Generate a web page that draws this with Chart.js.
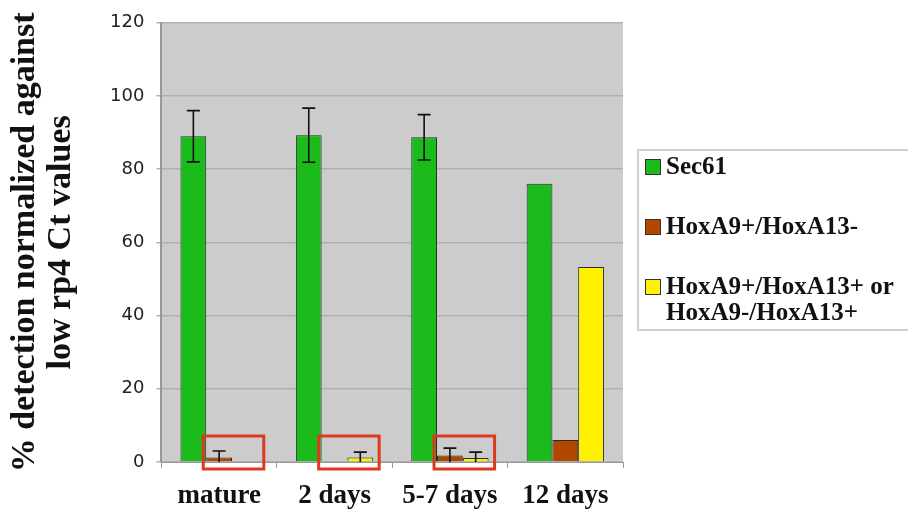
<!DOCTYPE html>
<html>
<head>
<meta charset="utf-8">
<script src="https://cdn.jsdelivr.net/npm/chart.js@4/dist/chart.umd.min.js"></script>
<style>
  html, body { margin:0; padding:0; background:#fff; }
  #wrap { width:908px; height:511px; position:relative; }
</style>
</head>
<body>
<div id="wrap"><canvas id="c" width="908" height="511"></canvas></div>
<script>
// ── Data ─────────────────────────────────────────────
const categories = ['mature', '2 days', '5-7 days', '12 days'];
const seriesNames = ['Sec61', 'HoxA9+/HoxA13-', ['HoxA9+/HoxA13+ or', 'HoxA9-/HoxA13+']];
const sec61      = [89.0, 89.3, 88.7, 76.0];
const hoxA9only  = [1.2, 0, 1.8, 6.0];
const hoxBoth    = [0, 1.2, 1.1, 53.3];
const sec61Err   = [7.0, 7.4, 6.2, 0];
const hoxA9Err   = [1.8, 0, 2.0, 0];
const hoxBothErr = [0, 1.5, 1.6, 0];
const boxedCats  = [0, 1, 2];
const yTicks     = [0, 20, 40, 60, 80, 100, 120];

const C = { green:'#1bbb1b', brown:'#b04800', yellow:'#fff200', plot:'#cccccc', grid:'#b0b0b0', red:'#dc3a1c' };
const errs = [sec61Err, hoxA9Err, hoxBothErr];

// ── Plugins ──────────────────────────────────────────
const plotBg = {
  id:'plotBg',
  beforeDraw(chart) {
    const { ctx, chartArea:a } = chart;
    ctx.save();
    ctx.fillStyle = C.plot;
    ctx.fillRect(a.left, a.top, a.right - a.left, a.bottom - a.top);
    ctx.restore();
  }
};

const errorBars = {
  id:'errorBars',
  afterDatasetsDraw(chart) {
    const { ctx, chartArea:a, scales:{ y } } = chart;
    ctx.save();
    ctx.beginPath();
    ctx.rect(a.left, a.top, a.right - a.left, a.bottom - a.top);
    ctx.clip();
    ctx.strokeStyle = '#111';
    ctx.lineWidth = 1.6;
    chart.data.datasets.forEach((ds, i) => {
      chart.getDatasetMeta(i).data.forEach((el, j) => {
        const e = errs[i][j];
        if (!e) return;
        const v = ds.data[j];
        const yt = y.getPixelForValue(v + e), yb = y.getPixelForValue(v - e);
        const cw = 6.5;
        ctx.beginPath();
        ctx.moveTo(el.x, yt); ctx.lineTo(el.x, yb);
        ctx.moveTo(el.x - cw, yt); ctx.lineTo(el.x + cw, yt);
        ctx.moveTo(el.x - cw, yb); ctx.lineTo(el.x + cw, yb);
        ctx.stroke();
      });
    });
    ctx.restore();
  }
};

const redBoxes = {
  id:'redBoxes',
  afterDraw(chart) {
    const { ctx, scales:{ y } } = chart;
    const m1 = chart.getDatasetMeta(1).data, m2 = chart.getDatasetMeta(2).data;
    const y0 = y.getPixelForValue(0);
    ctx.save();
    ctx.strokeStyle = C.red;
    ctx.lineWidth = 3;
    boxedCats.forEach(j => {
      const l = m1[j].x - m1[j].width / 2 - 3;
      const r = m2[j].x + m2[j].width / 2 + 6;
      ctx.strokeRect(l, y0 - 26, r - l, 33);
    });
    ctx.restore();
  }
};

const sideLegend = {
  id:'sideLegend',
  afterDraw(chart) {
    const { ctx } = chart;
    ctx.save();
    ctx.strokeStyle = '#d0d0d0';
    ctx.lineWidth = 2;
    ctx.strokeRect(638, 150, 280, 180);
    ctx.font = 'bold 25px "Liberation Serif", "Times New Roman", serif';
    ctx.textBaseline = 'middle';
    const rows = [167, 227, 287];
    chart.data.datasets.forEach((ds, i) => {
      const yc = rows[i];
      ctx.fillStyle = ds.backgroundColor;
      ctx.fillRect(645, yc - 8, 16, 16);
      ctx.strokeStyle = '#333';
      ctx.lineWidth = 1;
      ctx.strokeRect(645.5, yc - 7.5, 15, 15);
      ctx.fillStyle = '#111';
      const lines = Array.isArray(seriesNames[i]) ? seriesNames[i] : [seriesNames[i]];
      lines.forEach((t, k) => ctx.fillText(t, 666, yc + 1 + k * 26));
    });
    ctx.restore();
  }
};

// ── Chart ────────────────────────────────────────────
const barStyle = { borderColor:'#2a2a2a', borderWidth:1, categoryPercentage:0.67, barPercentage:1 };

new Chart(document.getElementById('c'), {
  type:'bar',
  data:{
    labels: categories,
    datasets:[
      { label:'Sec61', data:sec61, backgroundColor:C.green, ...barStyle },
      { label:'HoxA9+/HoxA13-', data:hoxA9only, backgroundColor:C.brown, ...barStyle },
      { label:'HoxA9+/HoxA13+ or HoxA9-/HoxA13+', data:hoxBoth, backgroundColor:C.yellow, ...barStyle },
    ]
  },
  options:{
    responsive:false, animation:false,
    layout:{ padding:{ left:3, right:285, top:21, bottom:0 } },
    plugins:{ legend:{ display:false }, tooltip:{ enabled:false } },
    scales:{
      x:{
        afterFit: s => { s.height = 49; },
        grid:{ drawOnChartArea:false, drawTicks:true, tickLength:6, offset:true, color:'#999' },
        border:{ color:'#999' },
        ticks:{ color:'#111', font:{ family:'"Liberation Serif", serif', size:27, weight:'bold', lineHeight:1 }, padding:15 }
      },
      y:{
        min:0, max:120,
        afterBuildTicks: ax => { ax.ticks = yTicks.map(v => ({ value:v })); },
        grid:{ color:C.grid, lineWidth:1.5, tickLength:5 },
        border:{ color:'#999', width:2 },
        ticks:{ color:'#222', font:{ family:'"DejaVu Sans", Verdana, sans-serif', size:18 }, padding:12 },
        title:{ display:true, text:['% detection normalized against', 'low rp4 Ct values'], color:'#111',
                font:{ family:'"Liberation Serif", serif', size:34, weight:'bold', lineHeight:1.06 }, padding:{ top:4, bottom:19 } }
      }
    }
  },
  plugins:[plotBg, errorBars, redBoxes, sideLegend]
});
</script>
</body>
</html>
